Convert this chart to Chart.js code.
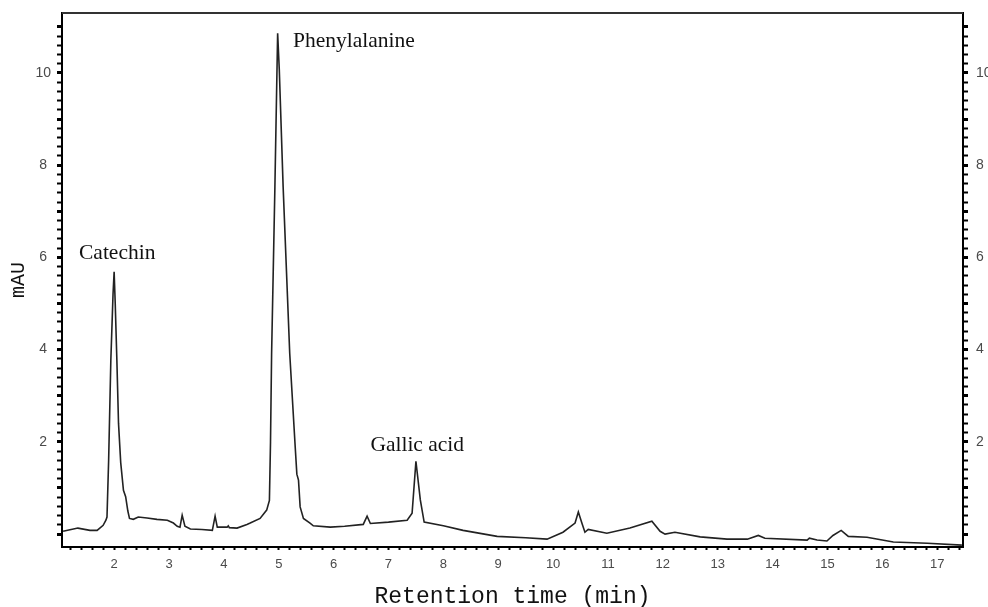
<!DOCTYPE html>
<html>
<head>
<meta charset="utf-8">
<script src="https://cdn.jsdelivr.net/npm/chart.js@4.4.0/dist/chart.umd.min.js"></script>
<style>
  html, body { margin: 0; padding: 0; background: #fff; }
  #wrap { width: 988px; height: 607px; position: relative; }
</style>
</head>
<body>
<div id="wrap"><canvas id="Chart"></canvas></div>
<script>
// retention time (min) and absorbance (mAU)
const time_min = [1.07, 1.34, 1.56, 1.69, 1.80, 1.85, 1.87, 1.90, 1.94, 1.98, 2.00, 2.02, 2.05, 2.08, 2.12,
  2.17, 2.21, 2.25, 2.28, 2.35, 2.44, 2.60, 2.78, 2.97, 3.08, 3.15, 3.20, 3.24, 3.29, 3.39, 3.60,
  3.79, 3.84, 3.88, 4.06, 4.08, 4.10, 4.24, 4.42, 4.48, 4.66, 4.78, 4.83, 4.85, 4.87, 4.93, 4.98,
  5.01, 5.08, 5.20, 5.30, 5.33, 5.36, 5.39, 5.45, 5.57, 5.63, 5.94, 6.20, 6.54, 6.61, 6.67, 7.00,
  7.34, 7.43, 7.50, 7.58, 7.65, 8.00, 8.36, 8.98, 9.50, 9.89, 10.18, 10.40, 10.46, 10.53, 10.58,
  10.64, 10.98, 11.40, 11.80, 11.95, 12.04, 12.22, 12.68, 13.17, 13.54, 13.74, 13.86, 14.63, 14.67,
  14.81, 14.99, 15.10, 15.25, 15.38, 15.72, 16.20, 16.82, 17.45];
const mAU = [0.06, 0.13, 0.08, 0.08, 0.19, 0.30, 0.37, 1.60, 3.77, 5.20, 5.69, 5.00, 3.77, 2.40, 1.55,
  0.95, 0.81, 0.50, 0.34, 0.32, 0.37, 0.35, 0.32, 0.30, 0.24, 0.17, 0.15, 0.41, 0.17, 0.11, 0.10,
  0.08, 0.39, 0.15, 0.15, 0.18, 0.14, 0.13, 0.21, 0.24, 0.34, 0.52, 0.73, 2.00, 3.92, 7.53, 10.86,
  10.07, 7.53, 3.92, 1.89, 1.30, 1.17, 0.59, 0.34, 0.24, 0.18, 0.15, 0.17, 0.21, 0.39, 0.23, 0.26,
  0.30, 0.45, 1.58, 0.74, 0.26, 0.18, 0.08, -0.05, -0.08, -0.11, 0.04, 0.24, 0.48, 0.22, 0.04,
  0.10, 0.02, 0.13, 0.28, 0.06, 0.00, 0.04, -0.06, -0.11, -0.11, -0.03, -0.09, -0.13, -0.09,
  -0.13, -0.15, -0.03, 0.08, -0.05, -0.07, -0.17, -0.20, -0.24];

const x_tick_labels = [2, 3, 4, 5, 6, 7, 8, 9, 10, 11, 12, 13, 14, 15, 16, 17];
const y_tick_labels = [2, 4, 6, 8, 10];

// peak names and where their text starts (time, mAU)
const peak_names = ['Catechin', 'Phenylalanine', 'Gallic acid'];
const peak_label_x = [1.36, 5.26, 6.67];
const peak_label_y = [5.96, 10.57, 1.8];

// minor tick marks every 0.2
let x_ticks = [], y_ticks = [];
for (let i = 0; i <= 81; i++) x_ticks.push(Math.round((1.2 + 0.2 * i) * 10) / 10);
for (let i = 0; i <= 55; i++) y_ticks.push(Math.round(0.2 * i * 10) / 10);

const isWhole = v => Math.abs(v - Math.round(v)) < 1e-6;
const sans = '"Liberation Sans", Arial, sans-serif';
const mono = '"Courier New", "Liberation Mono", monospace';

// keep label overhang from pushing the plot area around
function noPad(s) {
  s.paddingTop = 0; s.paddingBottom = 0; s.paddingLeft = 0; s.paddingRight = 0;
}

const peakLabels = {
  id: 'peakLabels',
  afterDatasetsDraw(chart) {
    const {ctx, scales: {x, y}} = chart;
    ctx.save();
    ctx.font = '21.5px "Liberation Serif", "Times New Roman", serif';
    ctx.fillStyle = '#111';
    ctx.textBaseline = 'alphabetic';
    ctx.textAlign = 'left';
    peak_names.forEach((name, i) => {
      ctx.fillText(name, x.getPixelForValue(peak_label_x[i]), y.getPixelForValue(peak_label_y[i]));
    });
    ctx.restore();
  }
};

const frame = {
  id: 'frame',
  afterDraw(chart) {
    const {ctx, chartArea: a} = chart;
    ctx.save();
    ctx.strokeStyle = '#333';
    ctx.lineWidth = 2;
    ctx.beginPath();
    ctx.moveTo(a.left, a.top);
    ctx.lineTo(a.right, a.top);
    ctx.stroke();
    ctx.restore();
  }
};

const ctx = document.getElementById('Chart').getContext('2d');
const my_chart = new Chart(ctx, {
  type: 'line',
  data: {
    datasets: [{
      data: time_min.map((t, i) => ({x: t, y: mAU[i]})),
      borderColor: '#222',
      borderWidth: 1.6,
      pointRadius: 0,
      tension: 0,
      fill: false
    }]
  },
  options: {
    responsive: true,
    maintainAspectRatio: false,
    animation: false,
    layout: { padding: { top: 13, left: 0, right: 0, bottom: 0 } },
    plugins: { legend: { display: false }, tooltip: { enabled: false } },
    scales: {
      x: {
        type: 'linear', min: 1.05, max: 17.47,
        afterBuildTicks: s => { s.ticks = x_ticks.map(v => ({value: v})); },
        afterFit: s => { s.height = 60; noPad(s); },
        ticks: {
          autoSkip: false, maxRotation: 0, padding: 7, color: '#4a4a4a',
          font: { family: sans, size: 13 },
          callback: v => (isWhole(v) && x_tick_labels.includes(Math.round(v))) ? String(Math.round(v)) : ''
        },
        grid: { drawOnChartArea: false, tickLength: 3, tickColor: '#000', tickWidth: 2 },
        border: { color: '#000', width: 2 },
        title: {
          display: true, text: 'Retention time (min)', color: '#111',
          font: { family: mono, size: 23, lineHeight: 1 },
          padding: { top: 0, bottom: -1.5 }
        }
      },
      y: {
        type: 'linear', position: 'left', min: -0.28, max: 11.3,
        afterBuildTicks: s => { s.ticks = y_ticks.map(v => ({value: v})); },
        afterFit: s => { s.width = 62; noPad(s); },
        ticks: {
          autoSkip: false, crossAlign: 'center', padding: 6, color: '#4a4a4a',
          font: { family: sans, size: 14 },
          callback: v => (isWhole(v) && y_tick_labels.includes(Math.round(v))) ? String(Math.round(v)) : ''
        },
        grid: { drawOnChartArea: false, tickLength: 5, tickColor: '#000',
          tickWidth: c => (c.tick && isWhole(c.tick.value)) ? 3 : 2 },
        border: { color: '#000', width: 2 },
        title: {
          display: true, text: 'mAU', color: '#111',
          font: { family: mono, size: 20, lineHeight: 1 },
          padding: { top: 9, bottom: 0 }
        }
      },
      y2: {
        type: 'linear', position: 'right', min: -0.28, max: 11.3,
        afterBuildTicks: s => { s.ticks = y_ticks.map(v => ({value: v})); },
        afterFit: s => { s.width = 25; noPad(s); },
        ticks: {
          autoSkip: false, padding: 8, color: '#4a4a4a',
          font: { family: sans, size: 14 },
          callback: v => (isWhole(v) && y_tick_labels.includes(Math.round(v))) ? String(Math.round(v)) : ''
        },
        grid: { drawOnChartArea: false, tickLength: 5, tickColor: '#000',
          tickWidth: c => (c.tick && isWhole(c.tick.value)) ? 3 : 2 },
        border: { color: '#000', width: 2 }
      }
    }
  },
  plugins: [peakLabels, frame]
});
</script>
</body>
</html>
